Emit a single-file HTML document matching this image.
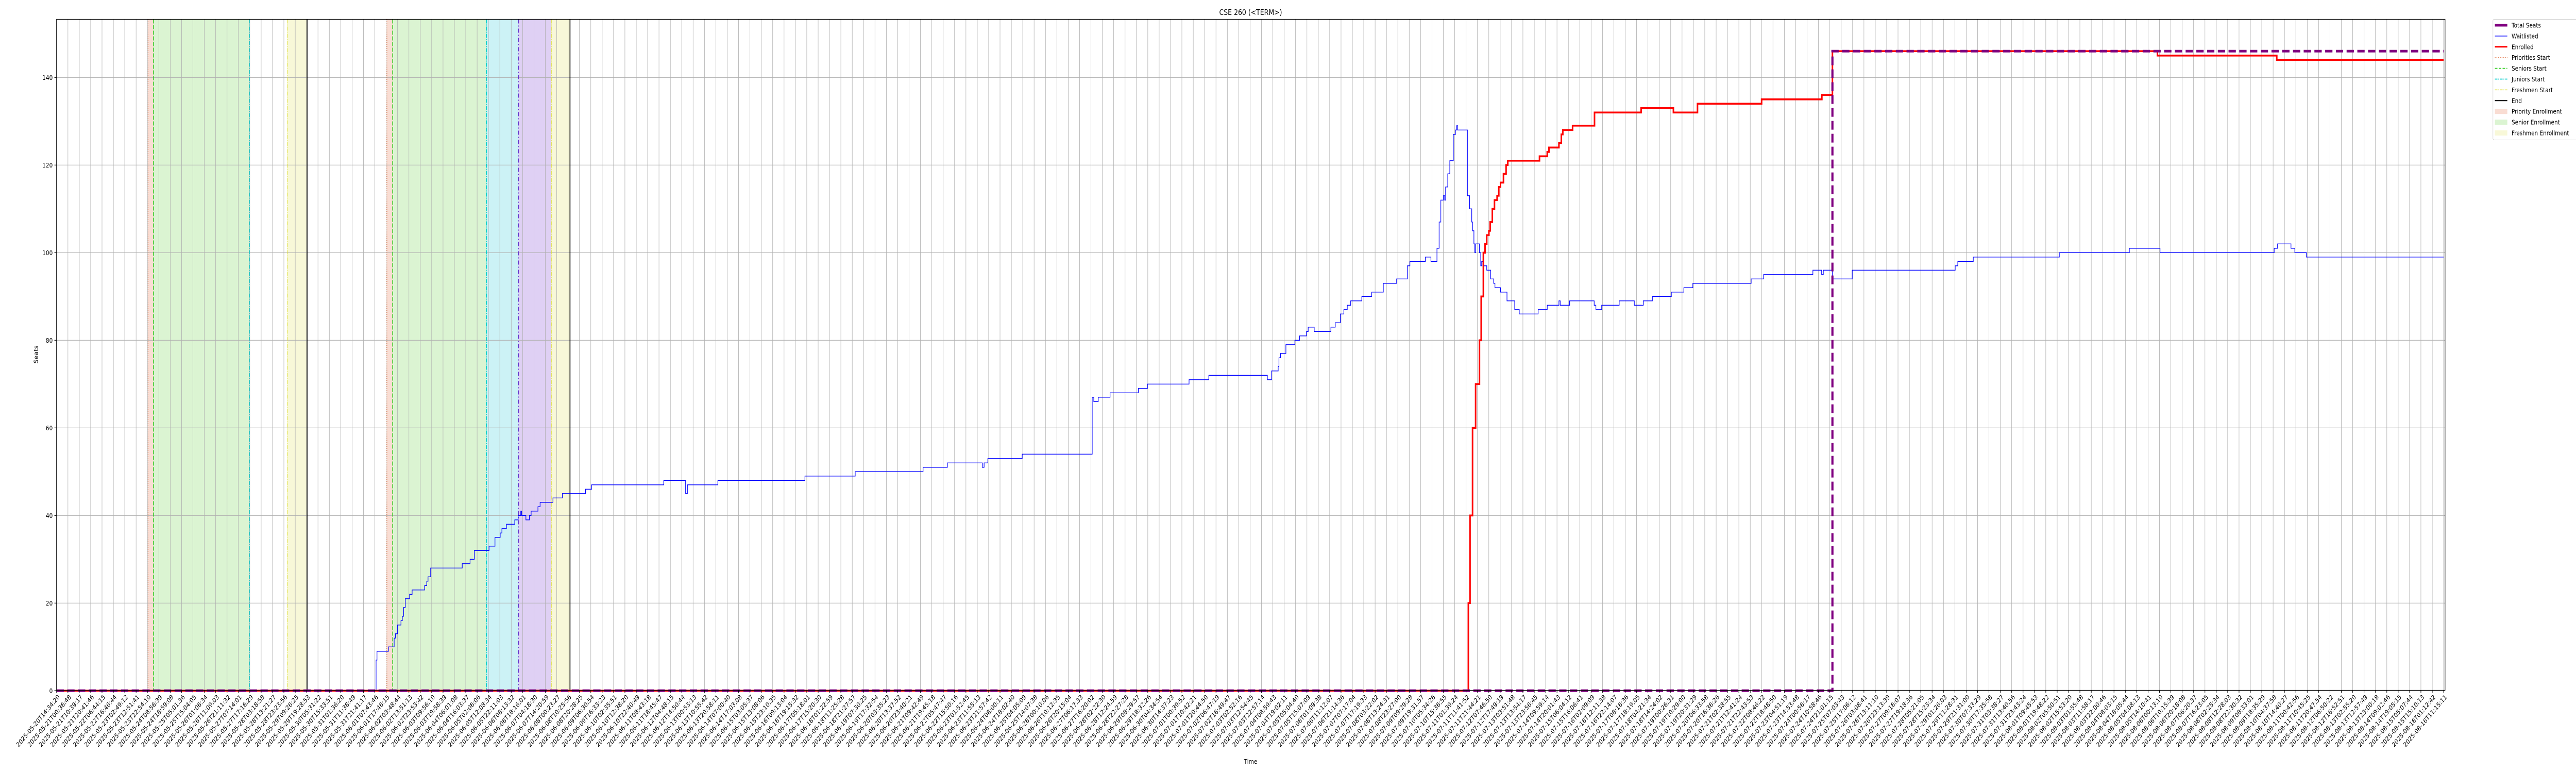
<!DOCTYPE html>
<html><head><meta charset="utf-8"><title>CSE 260 enrollment chart</title>
<style>
html,body{margin:0;padding:0;background:#fff;overflow:hidden;width:100%;height:100%;}
svg{display:block;width:100vw;height:100vh;font-family:"DejaVu Sans","Liberation Sans",sans-serif;}
</style></head>
<body>
<svg id="chart" viewBox="0 0 6000 1500" preserveAspectRatio="none" xmlns="http://www.w3.org/2000/svg">
<rect x="0" y="0" width="6000" height="1500" fill="#fff"/>
<g id="spans"></g>
<g id="grid"></g>
<g id="vlines"></g>
<g id="series"></g>
<g id="axes"></g>
<text x="2913" y="29" font-size="15" text-anchor="middle" fill="#000">CSE 260 (&lt;TERM&gt;)</text>
<text x="2913" y="1482" font-size="12.6" text-anchor="middle" fill="#000">Time</text>
<text transform="translate(88,688) rotate(-90)" font-size="12.6" text-anchor="middle" fill="#000">Seats</text>
<g id="legend"></g>
</svg>
<script>
// ---- data (x in tick-index units, 0..210) ----
const tickStart = "2025-05-20T14:34:20";
const tickEnd = "2025-08-16T11:15:11";
const tickCount = 211;
const yTicks = [0, 20, 40, 60, 80, 100, 120, 140];

const waitX = [0,28.06,28.11,28.19,29.20,29.70,29.81,30.00,30.30,30.42,30.53,30.68,31.06,31.28,32.38,32.57,32.68,32.91,35.69,36.38,36.75,38.05,38.57,39.03,39.18,39.58,40.31,40.61,40.84,40.92,41.29,41.60,41.75,42.35,42.54,43.67,44.50,46.54,47.07,53.42,55.34,55.50,58.18,65.84,70.26,76.23,78.37,81.44,81.60,81.93,84.95,91.11,91.25,91.64,92.68,95.17,95.97,99.63,101.37,106.52,106.89,107.47,107.54,107.68,108.15,108.94,109.35,109.96,110.11,110.64,112.11,112.49,112.94,113.25,113.55,113.85,114.83,115.70,116.72,117.89,118.84,119.06,120.42,120.91,121.44,121.63,121.78,122.01,122.12,122.20,122.39,122.57,122.88,123.07,123.18,123.25,124.12,124.31,124.50,124.57,124.69,124.77,124.84,124.96,125.18,125.29,125.37,125.48,125.82,126.16,126.43,126.54,127.03,127.60,128.28,128.68,130.34,131.14,132.17,132.28,133.11,135.27,135.42,135.93,137.47,138.80,139.59,140.39,142.06,143.16,143.95,149.08,150.18,154.51,155.28,155.43,156.23,157.97,167.03,167.26,168.62,176.19,182.35,185.05,195.09,195.39,196.57,196.91,197.93,210];
const waitY = [0,0,7,9,10,12,13,15,16,17,19,21,22,23,24,25,26,28,29,30,32,33,35,36,37,38,39,40,41,40,39,40,41,42,43,44,45,46,47,48,45,47,48,49,50,51,52,51,52,53,54,67,66,67,68,69,70,71,72,71,73,74,76,77,79,80,81,82,83,82,83,84,86,87,88,89,90,91,93,94,97,98,99,98,101,107,112,113,112,115,118,121,127,128,129,128,113,110,107,105,102,100,102,102,100,97,98,97,96,94,93,92,91,89,87,86,87,88,89,88,89,88,87,88,89,88,89,90,91,92,93,94,95,96,95,96,94,96,97,98,99,100,101,100,101,102,101,100,99,99];

const enrX = [0,124.12,124.20,124.35,124.57,124.84,125.18,125.33,125.52,125.67,125.82,126.01,126.12,126.31,126.50,126.73,126.88,127.03,127.29,127.52,127.67,130.46,131.14,131.29,132.17,132.38,132.51,133.37,135.30,139.40,142.24,144.36,150.00,155.30,156.23,184.82,195.32,210];
const enrY = [0,0,20,40,60,70,80,90,100,102,104,105,107,110,112,113,115,116,118,120,121,122,123,124,125,127,128,129,132,133,132,134,135,136,146,145,144,144];

const seatX = [0,156.23,210];
const seatY = [0,146,146];

const prioStarts = [8.05, 29.06];
const seniorStarts = [8.53, 29.57];
const juniorStarts = [16.96, 37.83];
const sophStarts = [40.64];
const freshStarts = [20.29, 43.53];
const endTimes = [22.04, 45.17];

// ---- scales ----
const X0 = 131.7, XW = 5560, XMAX = 210;
const Y0 = 1340.3, YPX = 8.5;
const PT = 37.5, PB = 1339.5, PR = 5695;
function sx(v){ return X0 + v / XMAX * XW; }
function sy(v){ return Y0 - v * YPX; }
const NS = "http://www.w3.org/2000/svg";
function mk(tag, attrs, parent){ const e = document.createElementNS(NS, tag); for (const k in attrs) e.setAttribute(k, attrs[k]); parent.appendChild(e); return e; }

// ---- spans ----
const spans = document.getElementById('spans');
function span(a, b, fill, name){
  const r = mk('rect', {x: sx(a), y: PT, width: sx(b) - sx(a), height: PB - PT, fill: fill}, spans);
  
  
}
for (let i = 0; i < prioStarts.length; i++) span(prioStarts[i], seniorStarts[i], 'rgba(230,120,80,0.25)', 'priority-enrollment-span');
span(seniorStarts[0], juniorStarts[0], 'rgba(124,214,94,0.28)', 'senior-enrollment-span');
span(seniorStarts[1], juniorStarts[1], 'rgba(124,214,94,0.28)', 'senior-enrollment-span');
span(juniorStarts[1], sophStarts[0], 'rgba(0,190,210,0.2)', 'junior-enrollment-span');
span(sophStarts[0], freshStarts[1], 'rgba(120,60,210,0.24)', 'sophomore-enrollment-span');
for (let i = 0; i < freshStarts.length; i++) span(freshStarts[i], endTimes[i], 'rgba(220,220,60,0.2)', 'freshmen-enrollment-span');

// ---- grid ----
const grid = document.getElementById('grid');
for (let i = 0; i < tickCount; i++){
  const x = sx(i);
  const l = mk('line', {x1: x, x2: x, y1: PT, y2: PB, stroke: '#b0b0b0', 'stroke-width': 1}, grid);
  
  
}
yTicks.forEach(v => {
  const l = mk('line', {x1: X0, x2: PR, y1: sy(v), y2: sy(v), stroke: '#b0b0b0', 'stroke-width': 1.2}, grid);
  
  
});

// ---- event vertical lines ----
const vl = document.getElementById('vlines');
function vline(x, color, dash, w, name){
  const l = mk('line', {x1: sx(x), x2: sx(x), y1: PT, y2: PB, stroke: color, 'stroke-width': w}, vl);
  if (dash) l.setAttribute('stroke-dasharray', dash);
  
  
}
prioStarts.forEach(x => vline(x, '#e07040', '1.5,2.5', 1.5, 'priorities-start-line'));
seniorStarts.forEach(x => vline(x, '#33cc22', '8,3', 1.8, 'seniors-start-line'));
juniorStarts.forEach(x => vline(x, '#00cccc', '8,2,2,2', 1.8, 'juniors-start-line'));
sophStarts.forEach(x => vline(x, '#6633cc', '8,4,2,4', 1.8, 'sophomores-start-line'));
freshStarts.forEach(x => vline(x, '#dddd33', '8,2,2,2', 1.3, 'freshmen-start-line'));
endTimes.forEach(x => vline(x, '#000', null, 2, 'end-line'));

// ---- series ----
const ser = document.getElementById('series');
function stepPath(xs, ys){
  let d = 'M' + sx(xs[0]).toFixed(2) + ',' + sy(ys[0]).toFixed(2);
  for (let i = 1; i < xs.length; i++){
    d += 'L' + sx(xs[i]).toFixed(2) + ',' + sy(ys[i-1]).toFixed(2);
    d += 'L' + sx(xs[i]).toFixed(2) + ',' + sy(ys[i]).toFixed(2);
  }
  return d;
}
const pw = mk('path', {d: stepPath(waitX, waitY), fill: 'none', stroke: '#0000ff', 'stroke-width': 1.4}, ser);


const pe = mk('path', {d: stepPath(enrX, enrY), fill: 'none', stroke: '#ff0000', 'stroke-width': 3.6}, ser);


const ps = mk('path', {d: stepPath(seatX, seatY), fill: 'none', stroke: '#800080', 'stroke-width': 5, 'stroke-dasharray': '17,8'}, ser);



// ---- axes ----
const ax = document.getElementById('axes');
const frame = mk('rect', {x: X0, y: PT, width: PR - X0, height: PB - PT, fill: 'none', stroke: '#000', 'stroke-width': 1.3}, ax);


yTicks.forEach(v => {
  const t = mk('line', {x1: X0 - 5, x2: X0, y1: sy(v), y2: sy(v), stroke: '#000', 'stroke-width': 1.2}, ax);
  
  
  const lb = mk('text', {x: X0 - 9, y: sy(v) + 4.5, 'font-size': 12.6, 'text-anchor': 'end', fill: '#000'}, ax);
  lb.textContent = String(v);
  
  
});
const tS = Date.parse(tickStart + 'Z'), tE = Date.parse(tickEnd + 'Z');
function fmt(ms){ return new Date(ms).toISOString().slice(0, 19); }
for (let i = 0; i < tickCount; i++){
  const x = sx(i);
  const t = mk('line', {x1: x, x2: x, y1: PB, y2: PB + 5, stroke: '#000', 'stroke-width': 1.2}, ax);
  
  
  const lb = mk('text', {transform: 'translate(' + (x + 2).toFixed(2) + ',1347) rotate(-45)', 'font-size': 12.6, 'text-anchor': 'end', dy: '0.72em', fill: '#000'}, ax);
  lb.textContent = fmt(tS + (tE - tS) * i / (tickCount - 1));
  
  
}

// ---- legend ----
const lg = document.getElementById('legend');
const box = mk('rect', {x: 5806.5, y: 37.5, width: 200, height: 234, rx: 3, fill: '#fff', 'fill-opacity': 0.8, stroke: '#d0d0d0', 'stroke-width': 1}, lg);


const legendItems = [
  ['Total Seats', 'line', '#800080', 5, null],
  ['Waitlisted', 'line', '#0000ff', 1.4, null],
  ['Enrolled', 'line', '#ff0000', 3, null],
  ['Priorities Start', 'line', '#e07040', 1.5, '1.5,2.5'],
  ['Seniors Start', 'line', '#33cc22', 1.8, '6,3'],
  ['Juniors Start', 'line', '#00cccc', 1.8, '6,2,2,2'],
  ['Freshmen Start', 'line', '#dddd33', 1.5, '6,2,2,2'],
  ['End', 'line', '#000', 2, null],
  ['Priority Enrollment', 'rect', 'rgba(230,120,80,0.25)'],
  ['Senior Enrollment', 'rect', 'rgba(124,214,94,0.28)'],
  ['Freshmen Enrollment', 'rect', 'rgba(220,220,60,0.2)']
];
legendItems.forEach((it, i) => {
  const cy = 49 + i * 20.9;
  const g = mk('g', {}, lg);
  
  
  if (it[1] === 'line'){
    const l = mk('line', {x1: 5811, x2: 5840, y1: cy, y2: cy, stroke: it[2], 'stroke-width': it[3]}, g);
    if (it[4]) l.setAttribute('stroke-dasharray', it[4]);
  } else {
    mk('rect', {x: 5811, y: cy - 5, width: 29, height: 10, fill: it[2]}, g);
  }
  const t = mk('text', {x: 5850, y: cy + 4.5, 'font-size': 12.6, fill: '#000'}, g);
  t.textContent = it[0];
});
</script>
</body></html>
